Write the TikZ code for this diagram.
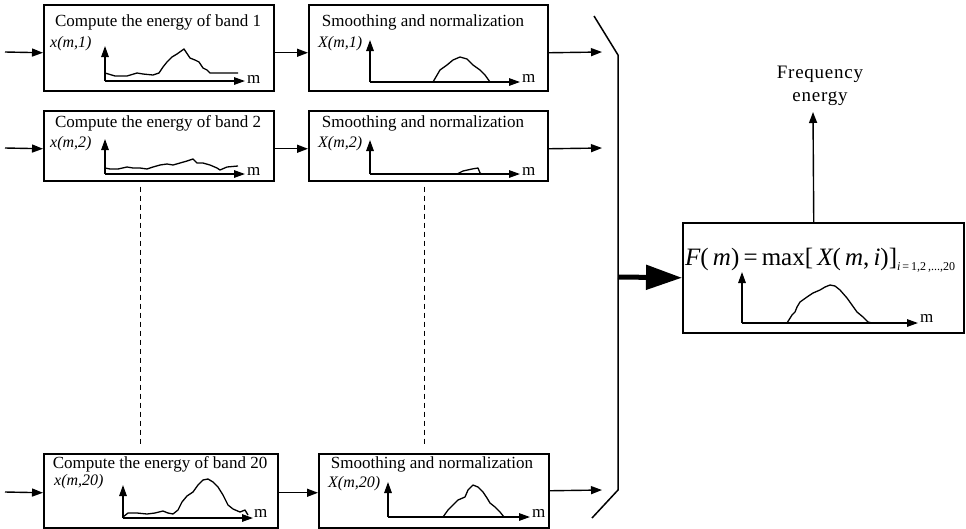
\documentclass[tikz,border=0pt]{standalone}
\usepackage{fontspec}
\setmainfont{Liberation Serif}
\usetikzlibrary{arrows.meta}
\begin{document}
\begin{tikzpicture}[x=1pt,y=-1pt,
 box/.style={draw,line width=1.5pt,inner sep=0,anchor=north west},
 arr/.style={-{Triangle[length=11pt,width=8pt]},line width=1.4pt},
 ax/.style={-{Triangle[length=11pt,width=7.5pt]},line width=1.4pt},
 crv/.style={line width=1.3pt,line join=round},
 dsh/.style={line width=1.3pt,dash pattern=on 5pt off 4pt},
 ttl/.style={font=\fontsize{17}{19}\selectfont,anchor=base,inner sep=0},
 lbl/.style={font=\fontsize{16}{18}\selectfont\itshape,anchor=base west,inner sep=0},
 mm/.style={font=\fontsize{17}{19}\selectfont,anchor=base west,inner sep=0}]
\path[use as bounding box] (0,0) rectangle (966,528);

% boxes
\node[box,minimum width=230pt,minimum height=86pt] (A1) at (43,4) {};
\node[box,minimum width=239pt,minimum height=86pt] (B1) at (308,4) {};
\node[box,minimum width=230pt,minimum height=70pt] (A2) at (43,110) {};
\node[box,minimum width=239pt,minimum height=70pt] (B2) at (308,110) {};
\node[box,minimum width=234pt,minimum height=74pt] (A3) at (43,453) {};
\node[box,minimum width=230pt,minimum height=74pt] (B3) at (318,453) {};
\node[box,minimum width=281pt,minimum height=110pt] (F) at (682,222) {};

% titles
\node[ttl] (tA1) at (158,26) {Compute the energy of band 1};
\node[ttl] (tB1) at (423,26) {Smoothing and normalization};
\node[ttl] (tA2) at (158,127) {Compute the energy of band 2};
\node[ttl] (tB2) at (423,127) {Smoothing and normalization};
\node[ttl] (tA3) at (160,468) {Compute the energy of band 20};
\node[ttl] (tB3) at (432,468) {Smoothing and normalization};

% axis labels
\node[lbl] (lA1) at (50,47) {x(m,1)};
\node[lbl] (lA2) at (50,147) {x(m,2)};
\node[lbl] (lA3) at (54,485) {x(m,20)};
\node[lbl] (lB1) at (318,47) {X(m,1)};
\node[lbl] (lB2) at (318,147) {X(m,2)};
\node[lbl] (lB3) at (328,487) {X(m,20)};
\node[mm] (mA1) at (247,83) {m};
\node[mm] (mA2) at (247,175) {m};
\node[mm] (mA3) at (254,517) {m};
\node[mm] (mB1) at (522,82) {m};
\node[mm] (mB2) at (522,175) {m};
\node[mm] (mB3) at (532,517) {m};
\node[mm] (mF) at (920,322) {m};

% axes
\draw[ax] (105,81) -- (105,46);   \draw[ax] (105,81) -- (245,81);
\draw[ax] (105,174) -- (105,139); \draw[ax] (105,174) -- (245,174);
\draw[ax] (123,518) -- (123,485); \draw[ax] (123,518) -- (253,518);
\draw[ax] (370,82) -- (370,40);   \draw[ax] (370,82) -- (520,82);
\draw[ax] (370,174) -- (370,140); \draw[ax] (370,174) -- (520,174);
\draw[ax] (388,517) -- (388,482); \draw[ax] (388,517) -- (530,517);
\draw[ax] (742,323) -- (742,272); \draw[ax] (742,323) -- (918,323);

% curves
\draw[crv] plot coordinates {(105,73) (115,76) (127,76) (137,73) (143,74) (153,75) (159,73) (163,67) (167,62) (172,57) (177,54) (184,49) (190,58) (195,60) (199,62) (203,68) (207,70) (210,73) (238,73)};
\draw[crv] plot coordinates {(105,168) (110,169) (118,169) (127,167) (133,168) (140,168) (147,169) (153,167) (160,165) (167,164) (173,165) (180,163) (187,161) (193,159) (197,163) (203,163) (210,165) (217,168) (220,170) (227,167) (238,166)};
\draw[crv] plot coordinates {(123,517) (128,513) (137,513) (147,514) (155,513) (163,511) (168,513) (173,514) (178,510) (182,502) (187,496) (193,492) (198,485) (203,480) (208,479) (213,482) (218,487) (223,495) (228,505) (233,509) (240,512) (245,510) (248,515)};
\draw[crv] plot coordinates {(433,82) (440,70) (447,65) (453,60) (460,57) (467,59) (473,65) (480,70) (485,75) (490,82)};
\draw[crv] plot coordinates {(457,174) (463,171) (472,169) (478,168) (480,173) (482,174)};
\draw[crv] plot coordinates {(443,517) (448,510) (453,505) (458,500) (465,497) (468,490) (473,485) (478,487) (483,492) (487,498) (490,503) (495,507) (500,512) (504,517)};
\draw[crv] plot coordinates {(787,323) (792,315) (795,312) (797,307) (800,302) (807,297) (813,293) (820,290) (825,287) (830,285) (835,286) (840,290) (847,298) (852,305) (857,312) (863,317) (868,322) (872,323)};

% formula
\node[inner sep=0,anchor=base west,font=\fontsize{25}{27}\selectfont] (fml) at (685,265)
 {{\itshape F}(\,{\itshape m})\,=\,max[\,{\itshape X}(\,{\itshape m},\,{\itshape i})]\raisebox{-5pt}{\fontsize{12}{12}\selectfont{\itshape i}\,=\,1,2\,,...,20}};

% inputs and outputs
\coordinate (in1) at (5,52);
\coordinate (in2) at (5,148);
\coordinate (in3) at (5,492);
\coordinate (o1) at (602,52);
\coordinate (o2) at (602,148);
\coordinate (o3) at (602,490);
\draw[arr] (in1) -- ([yshift=-5pt]A1.west);
\draw[arr] (in2) -- ([yshift=-3pt]A2.west);
\draw[arr] (in3) -- ([yshift=-2pt]A3.west);
\draw[arr] ([yshift=-5pt]A1.east) -- ([yshift=-5pt]B1.west);
\draw[arr] ([yshift=-3pt]A2.east) -- ([yshift=-3pt]B2.west);
\draw[arr] ([yshift=-2pt]A3.east) -- ([yshift=-2pt]B3.west);
\draw[arr] ([yshift=-5pt]B1.east) -- (o1);
\draw[arr] ([yshift=-3pt]B2.east) -- (o2);
\draw[arr] ([yshift=0pt]B3.east) -- (o3);

% dashed continuation
\draw[dsh] ([xshift=-18pt,yshift=-5pt]A2.south) -- ([xshift=-20pt,yshift=8pt]A3.north);
\draw[dsh] ([xshift=-3.5pt,yshift=-5pt]B2.south) -- ([xshift=-9pt,yshift=8pt]B3.north);

% combiner bracket
\coordinate (bt) at (594,16);
\coordinate (bb) at (592,518);
\coordinate (brk) at (618,277);
\draw[line width=1.5pt] (bt) -- (618,55) -- (618,490) -- (bb);
\draw[line width=5pt,-{Triangle[length=36pt,width=24pt]}] (brk) -- (F.west);

% output
\coordinate (fe) at (813,112);
\draw[arr] ([xshift=-9.5pt]F.north) -- (fe);
\node[inner sep=0,anchor=south,align=center,font=\fontsize{19}{23}\selectfont\addfontfeatures{LetterSpace=4}] (fet) at (820,106) {Frequency\\energy};
\end{tikzpicture}
\end{document}
